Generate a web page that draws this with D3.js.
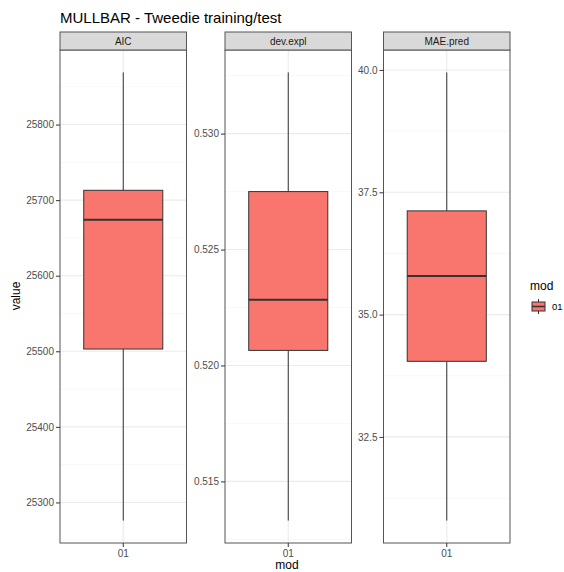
<!DOCTYPE html>
<html><head><meta charset="utf-8">
<script src="https://cdn.jsdelivr.net/npm/d3@7"></script>
<style>body{margin:0;background:#fff}svg{display:block;font-family:"Liberation Sans",Arial,sans-serif}</style>
</head><body>
<svg id="chart" width="564" height="572"></svg>
<script>
const title = "MULLBAR - Tweedie training/test";
const metrics = ["AIC", "dev.expl", "MAE.pred"];
const category = ["01"];
const whiskerLow = [25276, 0.51331, 30.79];
const boxLow = [25503, 0.52065, 34.045];
const medians = [25674, 0.52284, 35.79];
const boxHigh = [25713, 0.5275, 37.12];
const whiskerHigh = [25869, 0.53264, 39.95];
const tickValues = [
  [25300, 25400, 25500, 25600, 25700, 25800],
  [0.515, 0.520, 0.525, 0.530],
  [32.5, 35.0, 37.5, 40.0]
];
const tickFormats = [d3.format("d"), d3.format(".3f"), d3.format(".1f")];

(function () {
const svg = d3.select("#chart");
const panelLeft = [60, 225, 383.5];
const panelW = 126.5;
const stripTop = 32, stripH = 18;
const pTop = stripTop + stripH, pBottom = 543;
const fill = "#F8766D", ink = "#333333";
const ff = "Liberation Sans, Arial, sans-serif";

svg.append("text").attr("x", 60).attr("y", 23).attr("font-size", 15).attr("fill", "#000").text(title);

metrics.forEach((m, i) => {
  const x0 = panelLeft[i];
  const lo = whiskerLow[i], hi = whiskerHigh[i];
  const pad = (hi - lo) * 0.05;
  const y = d3.scaleLinear().domain([lo - pad, hi + pad]).range([pBottom, pTop]);
  const x = d3.scaleBand().domain(category).range([x0, x0 + panelW]).paddingOuter(0);
  const xc = d3.scaleLinear().domain([0.4, 1.6]).range([x0, x0 + panelW]);
  const g = svg.append("g");
  const tv = tickValues[i];
  const step = tv[1] - tv[0];
  const minors = [];
  for (let k = -1; k < tv.length; k++) {
    const v = tv[0] + step * (k + 0.5);
    if (v > y.domain()[0] && v < y.domain()[1]) minors.push(v);
  }
  g.selectAll(".minor").data(minors).join("line")
    .attr("x1", x0).attr("x2", x0 + panelW)
    .attr("y1", d => y(d)).attr("y2", d => y(d))
    .attr("stroke", "#f4f4f4").attr("stroke-width", 0.6);
  g.selectAll(".major").data(tv).join("line")
    .attr("x1", x0).attr("x2", x0 + panelW)
    .attr("y1", d => y(d)).attr("y2", d => y(d))
    .attr("stroke", "#ebebeb").attr("stroke-width", 1.1);
  g.append("line").attr("x1", xc(1)).attr("x2", xc(1)).attr("y1", pTop).attr("y2", pBottom)
    .attr("stroke", "#ebebeb").attr("stroke-width", 1.1);

  g.append("line").attr("x1", xc(1)).attr("x2", xc(1))
    .attr("y1", y(boxHigh[i])).attr("y2", y(whiskerHigh[i])).attr("stroke", ink).attr("stroke-width", 1);
  g.append("line").attr("x1", xc(1)).attr("x2", xc(1))
    .attr("y1", y(boxLow[i])).attr("y2", y(whiskerLow[i])).attr("stroke", ink).attr("stroke-width", 1);
  g.append("rect").attr("x", xc(0.625)).attr("width", xc(1.375) - xc(0.625))
    .attr("y", y(boxHigh[i])).attr("height", y(boxLow[i]) - y(boxHigh[i]))
    .attr("fill", fill).attr("stroke", ink).attr("stroke-width", 1);
  g.append("line").attr("x1", xc(0.625)).attr("x2", xc(1.375))
    .attr("y1", y(medians[i])).attr("y2", y(medians[i])).attr("stroke", ink).attr("stroke-width", 2);

  g.append("rect").attr("x", x0).attr("y", pTop).attr("width", panelW).attr("height", pBottom - pTop)
    .attr("fill", "none").attr("stroke", "#555").attr("stroke-width", 1);
  g.append("rect").attr("x", x0).attr("y", stripTop).attr("width", panelW).attr("height", stripH)
    .attr("fill", "#d9d9d9").attr("stroke", "#555").attr("stroke-width", 1);
  g.append("text").attr("x", x0 + panelW / 2).attr("y", stripTop + stripH / 2 + 3.7)
    .attr("text-anchor", "middle").attr("font-size", 10).attr("fill", "#1a1a1a").text(m);

  const ya = d3.axisLeft(y).tickValues(tv).tickFormat(tickFormats[i]).tickSize(4).tickPadding(2);
  const ag = svg.append("g").attr("transform", `translate(${x0},0)`).call(ya);
  ag.select(".domain").remove();
  ag.selectAll(".tick line").attr("stroke", "#333");
  ag.selectAll(".tick text").attr("fill", "#4d4d4d").attr("font-size", 10).attr("font-family", ff);

  const xa = d3.axisBottom(x).tickSize(4).tickPadding(3);
  const xg = svg.append("g").attr("transform", `translate(0,${pBottom})`).call(xa);
  xg.select(".domain").remove();
  xg.selectAll(".tick line").attr("stroke", "#333");
  xg.selectAll(".tick text").attr("fill", "#4d4d4d").attr("font-size", 10).attr("font-family", ff);
});

svg.append("text").attr("x", 287).attr("y", 569).attr("text-anchor", "middle").attr("font-size", 12).attr("fill", "#000").text("mod");
svg.append("text").attr("transform", "translate(20,296) rotate(-90)").attr("text-anchor", "middle").attr("font-size", 12).attr("fill", "#000").text("value");

const lg = svg.append("g");
lg.append("text").attr("x", 530).attr("y", 290).attr("font-size", 12).attr("fill", "#000").text("mod");
const kx = 531, ky = 298, kw = 15, kh = 17;
lg.append("line").attr("x1", kx + kw / 2).attr("x2", kx + kw / 2).attr("y1", ky + 1).attr("y2", ky + kh - 1).attr("stroke", ink);
lg.append("rect").attr("x", kx + 1).attr("y", ky + 4).attr("width", kw - 2).attr("height", kh - 8)
  .attr("fill", fill).attr("stroke", ink).attr("stroke-width", 1);
lg.append("line").attr("x1", kx + 1).attr("x2", kx + kw - 1).attr("y1", ky + kh / 2).attr("y2", ky + kh / 2).attr("stroke", ink).attr("stroke-width", 1.5);
lg.append("text").attr("x", kx + kw + 6).attr("y", ky + kh / 2 + 3.5).attr("font-size", 9.5).attr("fill", "#000").text(category[0]);
})();
</script>
</body></html>
